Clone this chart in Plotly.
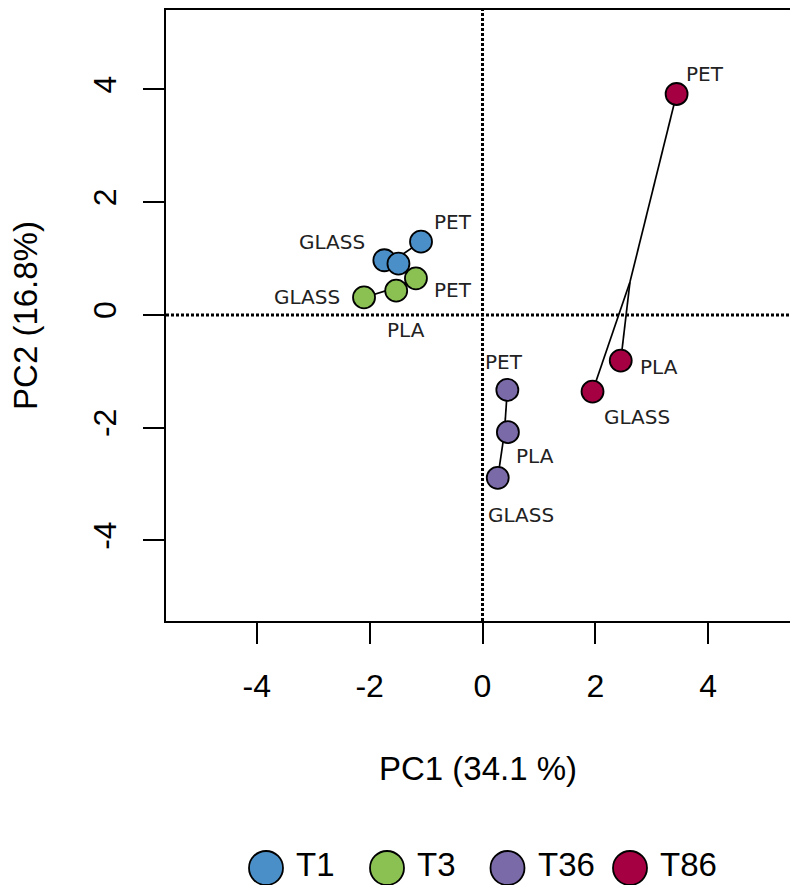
import plotly.graph_objects as go

# ---------------- data ----------------
groups = ["T1", "T3", "T36", "T86"]
materials = ["GLASS", "PLA", "PET"]

pc1_t1 = [-1.74, -1.49, -1.09]
pc2_t1 = [0.97, 0.91, 1.30]
pc1_t3 = [-2.10, -1.53, -1.18]
pc2_t3 = [0.31, 0.43, 0.65]
pc1_t36 = [0.27, 0.45, 0.44]
pc2_t36 = [-2.89, -2.08, -1.33]
pc1_t86 = [1.95, 2.45, 3.44]
pc2_t86 = [-1.36, -0.81, 3.92]

label_shown_t1 = [True, False, True]
label_shown_t3 = [True, True, True]
label_shown_t36 = [True, True, True]
label_shown_t86 = [True, True, True]

tick_vals = [-4, -2, 0, 2, 4]
tick_text = ["-4", "-2", "0", "2", "4"]

x_title = "PC1 (34.1 %)"
y_title = "PC2 (16.8%)"

# ---------------- styles / layout helpers ----------------
colors = ["#4A8FC7", "#8BC153", "#7B6AA8", "#A50041"]
# pixel offsets (dx, dy up) of the text labels from their points
label_offsets = {
    "T1": [(-52, 18), (0, 0), (32, 20)],
    "T3": [(-57, 0), (10, -39), (37, -12)],
    "T36": [(23, -37), (27, -24), (-3, 28)],
    "T86": [(44, -25), (38, -6), (28, 20)],
}
legend_px_x = [266, 387, 507.5, 630]
legend_px_y = 868

W, H = 790, 885
ML, MR, MT, MB = 166, 0, 10, 264

pc1 = {"T1": pc1_t1, "T3": pc1_t3, "T36": pc1_t36, "T86": pc1_t86}
pc2 = {"T1": pc2_t1, "T3": pc2_t3, "T36": pc2_t36, "T86": pc2_t86}
shown = {"T1": label_shown_t1, "T3": label_shown_t3,
         "T36": label_shown_t36, "T86": label_shown_t86}

fig = go.Figure()

# spider lines from group centroid to each point
for g in groups:
    xs, ys = pc1[g], pc2[g]
    cx = sum(xs) / len(xs)
    cy = sum(ys) / len(ys)
    lx, ly = [], []
    for x, y in zip(xs, ys):
        lx += [cx, x, None]
        ly += [cy, y, None]
    fig.add_trace(go.Scatter(x=lx, y=ly, mode="lines",
                             line=dict(color="black", width=1.7),
                             showlegend=False, hoverinfo="skip"))

# points
for g, c in zip(groups, colors):
    fig.add_trace(go.Scatter(
        x=pc1[g], y=pc2[g], mode="markers", name=g,
        marker=dict(size=22, color=c, line=dict(color="black", width=1.8)),
        text=materials, showlegend=False))

# point labels
annotations = []
for g in groups:
    for i, m in enumerate(materials):
        if not shown[g][i]:
            continue
        dx, dy = label_offsets[g][i]
        annotations.append(dict(
            x=pc1[g][i], y=pc2[g][i], xref="x", yref="y", text=m,
            showarrow=False, xshift=dx, yshift=dy,
            xanchor="center", yanchor="middle",
            font=dict(family="DejaVu Sans", size=20, color="#222222")))

# reference lines at 0
shapes = [
    dict(type="line", xref="x", yref="paper", x0=0, x1=0, y0=0, y1=1,
         line=dict(color="black", width=3, dash="3px,2px"), layer="below"),
    dict(type="line", xref="paper", yref="y", x0=0, x1=1, y0=0, y1=0,
         line=dict(color="black", width=3, dash="3px,2px"), layer="below"),
]

# legend (drawn manually to get large symbols)
pw = W - ML - MR
ph = H - MT - MB
for g, c, px in zip(groups, colors, legend_px_x):
    xp = (px - ML) / pw
    yp = (H - MB - legend_px_y) / ph
    shapes.append(dict(type="circle", xref="paper", yref="paper",
                       xsizemode="pixel", ysizemode="pixel",
                       xanchor=xp, yanchor=yp,
                       x0=-17, x1=17, y0=-17, y1=17,
                       fillcolor=c, line=dict(color="black", width=1.8)))
    annotations.append(dict(x=xp, y=yp, xref="paper", yref="paper",
                            text=g, showarrow=False, xshift=28, yshift=4,
                            xanchor="left", yanchor="middle",
                            font=dict(family="Liberation Sans", size=33,
                                      color="black")))

axis_common = dict(
    showgrid=False, zeroline=False,
    showline=True, linecolor="black", linewidth=1.6,
    ticks="outside", ticklen=21, tickwidth=1.6, tickcolor="black",
    tickvals=tick_vals, ticktext=tick_text,
    tickfont=dict(family="Liberation Sans", size=32, color="black"),
)

fig.update_layout(
    width=W, height=H,
    margin=dict(l=ML, r=MR, t=MT, b=MB, pad=0),
    plot_bgcolor="white", paper_bgcolor="white",
    showlegend=False,
    xaxis=dict(range=[-5.61, 5.45], mirror=True,
               ticklabelstandoff=15,
               title=dict(text=x_title, standoff=54,
                          font=dict(family="Liberation Sans", size=33,
                                    color="black")),
               **axis_common),
    yaxis=dict(range=[-5.43, 5.41], tickangle=-90,
               ticklabelstandoff=14,
               title=dict(text=y_title, standoff=40,
                          font=dict(family="Liberation Sans", size=33,
                                    color="black")),
               **axis_common),
    shapes=shapes,
    annotations=annotations,
)

fig.write_html(
    "out.html",
    config={"displayModeBar": False},
    post_script="document.body.style.margin='0';"
                "document.body.style.overflow='hidden';",
)
